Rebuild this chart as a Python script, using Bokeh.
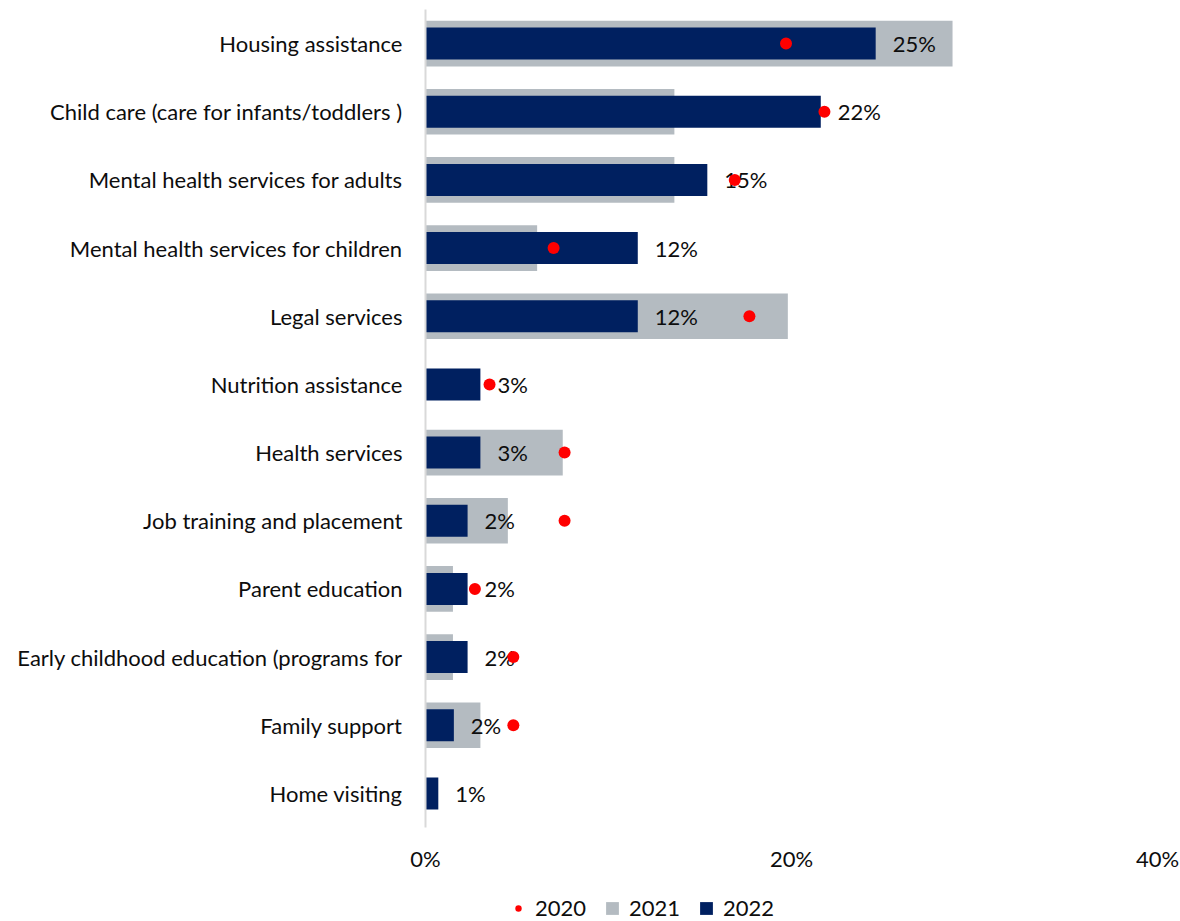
from bokeh.plotting import figure
from bokeh.layouts import column
from bokeh.models import (ColumnDataSource, FactorRange, Range1d, Legend, LegendItem,
                          FixedTicker, PrintfTickFormatter)
from bokeh.core.properties import value
from bokeh.embed import file_html
from bokeh.resources import INLINE

categories = [
    "Housing assistance",
    "Child care (care for infants/toddlers )",
    "Mental health services for adults",
    "Mental health services for children",
    "Legal services",
    "Nutrition assistance",
    "Health services",
    "Job training and placement",
    "Parent education",
    "Early childhood education (programs for",
    "Family support",
    "Home visiting",
]
v2020 = [19.7, 21.8, 16.9, 7.0, 17.7, 3.5, 7.6, 7.6, 2.7, 4.8, 4.8, None]
v2021 = [28.8, 13.6, 13.6, 6.1, 19.8, 0.0, 7.5, 4.5, 1.5, 1.5, 3.0, 0.0]
v2022 = [24.6, 21.6, 15.4, 11.6, 11.6, 3.0, 3.0, 2.3, 2.3, 2.3, 1.55, 0.7]
x_ticks = [0, 20, 40]
series_names = ["2020", "2021", "2022"]

NAVY = "#002060"
GRAY = "#B4BBC1"
RED = "#FF0000"
FONT = "Lato"
TXT = "#0d0d0d"
FS = "22px"

src = ColumnDataSource(dict(
    cat=categories,
    v2021=v2021,
    v2022=v2022,
    lab=["%.0f%%" % v for v in v2022],
))
dots = [(c, v) for c, v in zip(categories, v2020) if v is not None]
src20 = ColumnDataSource(dict(cat=[d[0] for d in dots], v=[d[1] for d in dots]))

p = figure(width=1180, height=885, output_backend="svg", toolbar_location=None,
           y_range=FactorRange(factors=list(reversed(categories))),
           x_range=Range1d(0, 40),
           min_border_left=425, min_border_right=23, min_border_top=9, min_border_bottom=58)
p.outline_line_color = None
p.xgrid.visible = False
p.ygrid.visible = False

p.hbar(y="cat", right="v2021", left=0, height=0.67, source=src, color=GRAY, line_color=None)
p.hbar(y="cat", right="v2022", left=0, height=0.47, source=src, color=NAVY, line_color=None)
p.text(x="v2022", y="cat", text="lab", source=src, x_offset=17, text_baseline="middle",
       text_align="left", text_font=value(FONT), text_font_size=FS, text_color=TXT)
p.scatter(x="v", y="cat", source=src20, size=12, color=RED, line_color=None)

xa = p.xaxis[0]
xa.ticker = FixedTicker(ticks=x_ticks)
xa.formatter = PrintfTickFormatter(format="%d%%")
xa.axis_line_color = None
xa.major_tick_line_color = None
xa.minor_tick_line_color = None
xa.major_tick_out = 0
xa.major_tick_in = 0
xa.major_label_standoff = 17
xa.major_label_text_font = FONT
xa.major_label_text_font_size = FS
xa.major_label_text_color = TXT

ya = p.yaxis[0]
ya.axis_line_color = "#D9D9D9"
ya.axis_line_width = 2
ya.major_tick_line_color = None
ya.minor_tick_line_color = None
ya.major_tick_out = 0
ya.major_tick_in = 0
ya.major_label_standoff = 23
ya.major_label_text_font = FONT
ya.major_label_text_font_size = FS
ya.major_label_text_color = TXT

# legend strip (its frame is aligned with the main frame by the column layout)
q = figure(width=1180, height=36, output_backend="svg", toolbar_location=None,
           x_range=Range1d(0, 1), y_range=Range1d(0, 1),
           min_border_left=425, min_border_right=23, min_border_top=0, min_border_bottom=0)
q.axis.visible = False
q.xgrid.visible = False
q.ygrid.visible = False
q.outline_line_color = None
l20 = q.scatter(x=[-5], y=[-5], size=12, color=RED, line_color=None)
l21 = q.hbar(y=[-5], left=[-6], right=[-5], height=0.5, color=GRAY, line_color=None)
l22 = q.hbar(y=[-5], left=[-6], right=[-5], height=0.5, color=NAVY, line_color=None)

legend = Legend(items=[
    LegendItem(label=series_names[0], renderers=[l20]),
    LegendItem(label=series_names[1], renderers=[l21]),
    LegendItem(label=series_names[2], renderers=[l22]),
], location=(85, 0), orientation="horizontal")
legend.padding = 0
legend.margin = 0
legend.spacing = 18
legend.glyph_width = 16
legend.glyph_height = 16
legend.label_standoff = 9
legend.label_text_font = FONT
legend.label_text_font_size = FS
legend.label_text_color = TXT
legend.border_line_color = None
legend.background_fill_alpha = 0
q.add_layout(legend, "center")

open("out.html", "w").write(file_html(column(p, q, spacing=0), INLINE))
